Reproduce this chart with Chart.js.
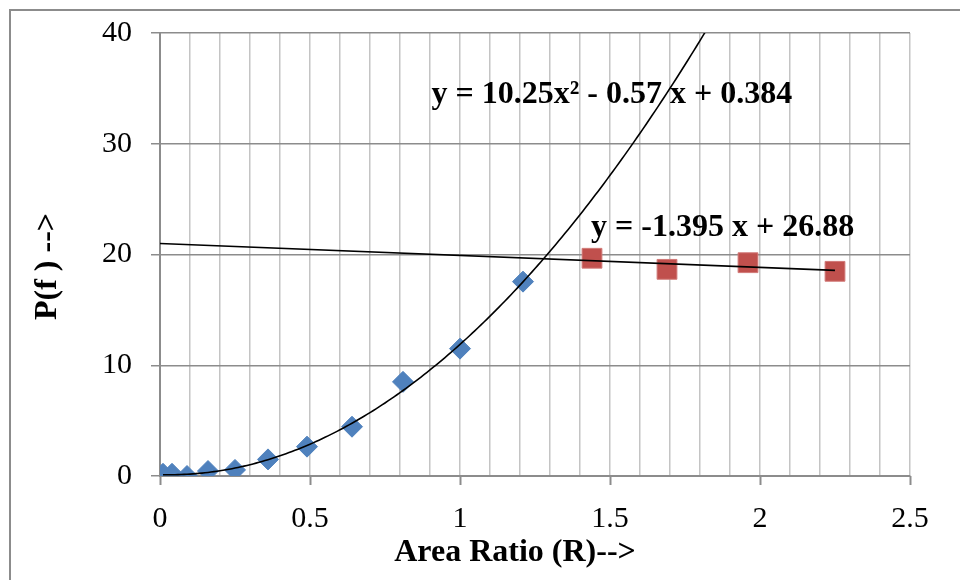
<!DOCTYPE html>
<html lang="en">
<head>
    <meta charset="UTF-8">
    <title>P(f) vs Area Ratio</title>
    <script src="https://cdn.jsdelivr.net/npm/chart.js"></script>
    <style>
        body {
            margin: 0;
            background: #FFFFFF;
        }

        .wrap {
            position: relative;
            width: 960px;
            height: 580px;
            overflow: hidden;
        }

        .wrap canvas {
            display: block;
        }

        .frame {
            position: absolute;
            left: 9px;
            top: 9px;
            width: 980px;
            height: 600px;
            border-left: 2px solid #8C8C8C;
            border-top: 2px solid #8C8C8C;
        }
    </style>
</head>
<body>
    <div class="wrap">
        <div class="frame"></div>
        <canvas id="chart" width="960" height="580"></canvas>
    </div>

    <script>
        // Data
        const ratioLow = [0.01, 0.04, 0.09, 0.16, 0.25, 0.36, 0.49, 0.64, 0.81, 1.0, 1.21];
        const pfLow = [0.2, 0.2, 0.0, 0.45, 0.55, 1.5, 2.65, 4.45, 8.5, 11.5, 17.55];
        const ratioHigh = [1.44, 1.69, 1.96, 2.25];
        const pfHigh = [19.66, 18.66, 19.26, 18.48];

        const xTicks = [0, 0.5, 1, 1.5, 2, 2.5];
        const yTicks = [0, 10, 20, 30, 40];

        const eqQuad = 'y = 10.25x\u00B2 - 0.57 x + 0.384';
        const eqLin = 'y = -1.395 x + 26.88';

        const serif = "'Liberation Serif', 'Times New Roman', serif";
        const nb = n => '\u00A0'.repeat(n);
        const axisGray = '#8C8C8C';

        // least squares polynomial fit (trendlines)
        function polyFit(xs, ys, deg) {
            const n = deg + 1;
            const A = [];
            for (let r = 0; r < n; r++) {
                const row = [];
                for (let c = 0; c < n; c++) {
                    row.push(xs.reduce((s, x) => s + Math.pow(x, r + c), 0));
                }
                row.push(xs.reduce((s, x, i) => s + ys[i] * Math.pow(x, r), 0));
                A.push(row);
            }
            for (let i = 0; i < n; i++) {
                for (let k = i + 1; k < n; k++) {
                    const f = A[k][i] / A[i][i];
                    for (let j = i; j <= n; j++) A[k][j] -= f * A[i][j];
                }
            }
            const coef = new Array(n).fill(0);
            for (let i = n - 1; i >= 0; i--) {
                let s = A[i][n];
                for (let j = i + 1; j < n; j++) s -= A[i][j] * coef[j];
                coef[i] = s / A[i][i];
            }
            return coef;
        }

        function evalPoly(coef, x) {
            return coef.reduce((s, c, i) => s + c * Math.pow(x, i), 0);
        }

        const quadCoef = polyFit(ratioLow, pfLow, 2);
        const linCoef = polyFit(ratioHigh, pfHigh, 1);

        const quadLine = [];
        for (let i = 0; i <= 190; i++) {
            const x = ratioLow[0] + i * 0.01;
            quadLine.push({ x: x, y: evalPoly(quadCoef, x) });
        }
        const linLine = [0, ratioHigh[ratioHigh.length - 1]].map(x => ({ x: x, y: evalPoly(linCoef, x) }));

        const isMajor = v => xTicks.some(t => Math.abs(t - v) < 1e-6);

        // equation texts + tick marks at the labelled x values only
        const extras = {
            id: 'extras',
            afterDatasetsDraw(chart) {
                const { ctx, scales: { x, y } } = chart;
                ctx.save();
                ctx.strokeStyle = axisGray;
                ctx.lineWidth = 2;
                xTicks.forEach(t => {
                    const px = Math.round(x.getPixelForValue(t)) + 0.5;
                    ctx.beginPath();
                    ctx.moveTo(px, y.bottom);
                    ctx.lineTo(px, y.bottom + 9);
                    ctx.stroke();
                });
                ctx.fillStyle = '#000000';
                ctx.font = 'bold 32px ' + serif;
                ctx.textBaseline = 'middle';
                ctx.textAlign = 'left';
                ctx.fillText(eqQuad, x.getPixelForValue(0.905), y.getPixelForValue(34.4));
                ctx.fillText(eqLin, x.getPixelForValue(1.437), y.getPixelForValue(22.4));
                ctx.restore();
            }
        };

        const ctx = document.getElementById('chart').getContext('2d');
        new Chart(ctx, {
            type: 'scatter',
            data: {
                datasets: [
                    {
                        label: 'Poly trend',
                        data: quadLine,
                        showLine: true,
                        borderColor: '#000000',
                        borderWidth: 1.6,
                        pointRadius: 0,
                        order: 0
                    },
                    {
                        label: 'Linear trend',
                        data: linLine,
                        showLine: true,
                        borderColor: '#000000',
                        borderWidth: 1.6,
                        pointRadius: 0,
                        order: 0
                    },
                    {
                        label: 'R <= 1.21',
                        data: ratioLow.map((x, i) => ({ x: x, y: pfLow[i] })),
                        pointStyle: 'rectRot',
                        pointRadius: 10.5,
                        backgroundColor: '#4F81BD',
                        borderColor: '#4F81BD',
                        borderWidth: 1,
                        order: 1
                    },
                    {
                        label: 'R >= 1.44',
                        data: ratioHigh.map((x, i) => ({ x: x, y: pfHigh[i] })),
                        pointStyle: 'rect',
                        pointRadius: 14,
                        backgroundColor: '#C0504D',
                        borderColor: '#D17A78',
                        borderWidth: 1,
                        order: 1
                    }
                ]
            },
            options: {
                responsive: false,
                animation: false,
                layout: {
                    padding: { top: 33, right: 50, left: 0, bottom: 0 }
                },
                plugins: {
                    legend: { display: false },
                    tooltip: { enabled: false }
                },
                scales: {
                    x: {
                        type: 'linear',
                        min: 0,
                        max: 2.5,
                        afterFit: scale => {
                            scale.height = 104;
                            scale.paddingLeft = 0;
                            scale.paddingRight = 0;
                        },
                        ticks: {
                            stepSize: 0.1,
                            autoSkip: false,
                            maxRotation: 0,
                            padding: 25,
                            color: '#000000',
                            font: { family: serif, size: 30 },
                            callback: v => isMajor(v) ? String(Math.round(v * 10) / 10) : ''
                        },
                        grid: {
                            color: '#C4C4C4',
                            lineWidth: 1.5,
                            drawTicks: false
                        },
                        border: { color: axisGray, width: 2 },
                        title: {
                            display: true,
                            text: 'Area Ratio (R)-->' + nb(5),
                            color: '#000000',
                            font: { family: serif, size: 32, weight: 'bold' },
                            padding: { top: 0, bottom: 8 }
                        }
                    },
                    y: {
                        min: 0,
                        max: 40,
                        afterFit: scale => {
                            scale.width = 160;
                            scale.paddingTop = 0;
                            scale.paddingBottom = 0;
                        },
                        ticks: {
                            stepSize: 10,
                            padding: 19,
                            color: '#000000',
                            font: { family: serif, size: 30 }
                        },
                        grid: {
                            color: axisGray,
                            lineWidth: 1.5,
                            tickLength: 9,
                            tickColor: axisGray
                        },
                        border: { color: axisGray, width: 2 },
                        title: {
                            display: true,
                            text: 'P(f ) -->' + nb(3),
                            color: '#000000',
                            font: { family: serif, size: 32, weight: 'bold' },
                            padding: { top: 29, bottom: 0 }
                        }
                    }
                }
            },
            plugins: [extras]
        });
    </script>
</body>
</html>
